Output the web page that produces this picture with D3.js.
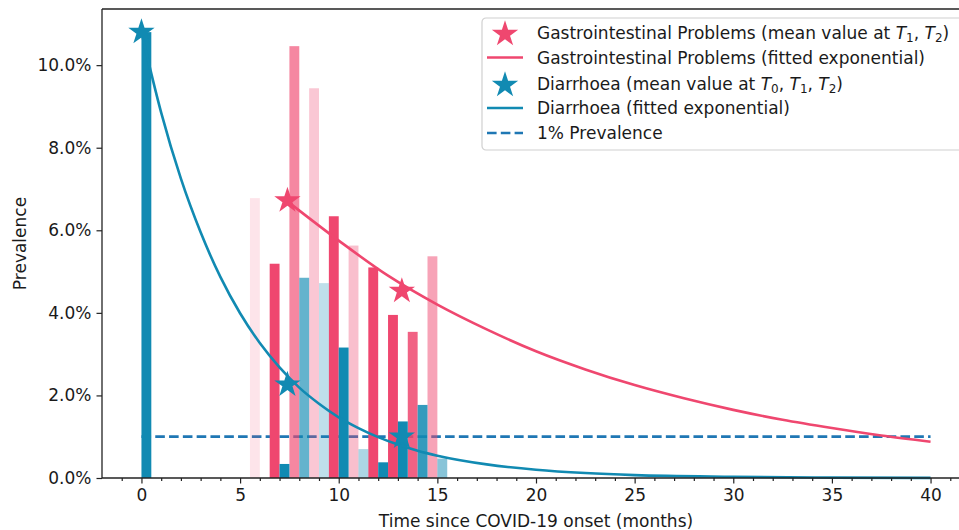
<!DOCTYPE html>
<html lang="en">
<head>
<meta charset="utf-8">
<script src="https://d3js.org/d3.v7.min.js"></script>
<style>
  body { margin: 0; background: #fff; }
  text { font-family: "DejaVu Sans", sans-serif; fill: #1a1a1a; }
</style>
</head>
<body>
<script>
// ---- data (months since onset, prevalence in %) ----
const giBarMonths = [5.5, 6.5, 7.5, 8.5, 9.5, 10.5, 11.5, 12.5, 13.5, 14.5];
const giBarValues = [6.78, 5.19, 10.46, 9.44, 6.34, 5.63, 5.10, 3.95, 3.54, 5.37];

const diaBarMonths = [0, 7, 8, 9, 10, 11, 12, 13, 14, 15];
const diaBarValues = [10.8, 0.34, 4.85, 4.72, 3.16, 0.70, 0.38, 1.37, 1.77, 0.47];

const giStarMonths = [7.4, 13.2];
const giStarValues = [6.72, 4.53];

const diaStarMonths = [0, 7.4, 13.2];
const diaStarValues = [10.8, 2.26, 1.0];

// fitted curves
const giFitMonths = [7.4, 10, 12.5, 15, 17.5, 20, 22.5, 25, 27.5, 30, 32.5, 35, 37.5, 40];
const giFitValues = [6.70, 5.75, 4.90, 4.20, 3.60, 3.07, 2.63, 2.25, 1.93, 1.65, 1.41, 1.21, 1.03, 0.88];

const diaFitMonths = [0, 1, 2, 3, 4, 5, 6, 7, 8, 9, 10, 11, 12, 13, 14, 15, 17.5, 20, 22.5, 25, 30, 35, 40];
const diaFitValues = [10.8, 8.85, 7.25, 5.95, 4.87, 3.99, 3.27, 2.68, 2.19, 1.80, 1.47, 1.21, 0.99, 0.81, 0.66, 0.54, 0.33, 0.20, 0.12, 0.07, 0.03, 0.01, 0.004];

const thresholdValue = 1;
const thresholdMonths = [0, 40];

const xTicks = [0, 5, 10, 15, 20, 25, 30, 35, 40];
const yTicks = [0, 2, 4, 6, 8, 10];

// ---- styles ----
const pink = "#ef476f";
const teal = "#118ab2";
const dashBlue = "#1f77b4";
const barWidth = 0.5;
const giBarOpacity = [0.15, 1, 0.65, 0.3, 1, 0.35, 1, 1, 0.85, 0.5];
const diaBarOpacity = [1, 1, 0.65, 0.27, 1, 0.35, 1, 1, 0.85, 0.5];
const fs = 17;

const W = 959, H = 530;
const margin = {top: 9, right: -11, bottom: 52, left: 102};
const width = W - margin.left - margin.right;
const height = H - margin.top - margin.bottom;

const svg = d3.select("body").append("svg")
    .attr("width", W)
    .attr("height", H);

const g = svg.append("g")
    .attr("transform", "translate(" + margin.left + "," + margin.top + ")");

const x = d3.scaleLinear().domain([-2, 42]).range([0, width]);
const y = d3.scaleLinear().domain([0, 11.36]).range([height, 0]);

// 1% line goes under the bars
g.append("line")
    .attr("x1", x(thresholdMonths[0]))
    .attr("x2", x(thresholdMonths[1]))
    .attr("y1", y(thresholdValue))
    .attr("y2", y(thresholdValue))
    .attr("stroke", dashBlue)
    .attr("stroke-width", 2.7)
    .attr("stroke-dasharray", "9.6,4.2");

// bars
function drawBars(months, values, opac, colour) {
    g.append("g").selectAll("rect")
        .data(months)
        .join("rect")
        .attr("x", d => x(d))
        .attr("width", x(barWidth) - x(0))
        .attr("y", (d, i) => y(values[i]))
        .attr("height", (d, i) => y(0) - y(values[i]))
        .attr("fill", colour)
        .attr("fill-opacity", (d, i) => opac[i]);
}
drawBars(giBarMonths, giBarValues, giBarOpacity, pink);
drawBars(diaBarMonths, diaBarValues, diaBarOpacity, teal);

// fitted curves
const line = d3.line()
    .x(d => x(d[0]))
    .y(d => y(d[1]))
    .curve(d3.curveMonotoneX);

g.append("path")
    .attr("d", line(diaFitMonths.map((m, i) => [m, diaFitValues[i]])))
    .attr("fill", "none")
    .attr("stroke", teal)
    .attr("stroke-width", 2.6);

g.append("path")
    .attr("d", line(giFitMonths.map((m, i) => [m, giFitValues[i]])))
    .attr("fill", "none")
    .attr("stroke", pink)
    .attr("stroke-width", 2.6);

// stars
const star = d3.symbol().type(d3.symbolStar).size(215);
function drawStars(months, values, colour) {
    g.append("g").selectAll("path")
        .data(months)
        .join("path")
        .attr("d", star)
        .attr("transform", (d, i) => "translate(" + x(d) + "," + y(values[i]) + ")")
        .attr("fill", colour);
}
drawStars(giStarMonths, giStarValues, pink);
drawStars(diaStarMonths, diaStarValues, teal);

// axes frame
const frame = g.append("g").attr("stroke", "#222").attr("stroke-width", 1.3);
frame.append("line").attr("x1", 0).attr("x2", width).attr("y1", 0).attr("y2", 0);
frame.append("line").attr("x1", 0).attr("x2", width).attr("y1", height).attr("y2", height);
frame.append("line").attr("x1", 0).attr("x2", 0).attr("y1", 0).attr("y2", height);
frame.append("line").attr("x1", width).attr("x2", width).attr("y1", 0).attr("y2", height);

// x axis
const xAxis = g.append("g")
    .attr("transform", "translate(0," + height + ")")
    .call(d3.axisBottom(x).tickValues(xTicks).tickSize(5.5).tickPadding(5).tickFormat(d3.format("d")));
xAxis.select(".domain").remove();
const minor = d3.range(-1, 42).filter(m => m % 5 !== 0);
g.append("g")
    .attr("transform", "translate(0," + height + ")")
    .call(d3.axisBottom(x).tickValues(minor).tickSize(3).tickFormat(""))
    .select(".domain").remove();

// y axis
const yAxis = g.append("g")
    .call(d3.axisLeft(y).tickValues(yTicks).tickSize(5.5).tickPadding(5).tickFormat(d => d.toFixed(1) + "%"));
yAxis.select(".domain").remove();

g.selectAll(".tick line").attr("stroke", "#222").attr("stroke-width", 1.2);
g.selectAll(".tick text").attr("font-size", fs).attr("font-family", "DejaVu Sans").attr("fill", "#1a1a1a");

svg.append("text")
    .attr("x", margin.left + (x(42) + x(-2)) / 2)
    .attr("y", 527)
    .attr("text-anchor", "middle")
    .attr("font-size", fs)
    .text("Time since COVID-19 onset (months)");

svg.append("text")
    .attr("transform", "translate(26," + (margin.top + height / 2) + ") rotate(-90)")
    .attr("text-anchor", "middle")
    .attr("font-size", fs)
    .text("Prevalence");

// legend
const leg = svg.append("g").attr("transform", "translate(482,18)");
leg.append("rect")
    .attr("width", 482).attr("height", 132)
    .attr("rx", 4)
    .attr("fill", "#fff").attr("fill-opacity", 0.8)
    .attr("stroke", "#d0d0d0").attr("stroke-width", 1.2);

const rowY = [14.5, 39.5, 65.5, 90, 115];
// label parts: [text, italic, subscript]
const legendItems = [
    {kind: "star", colour: pink, parts: [["Gastrointestinal Problems (mean value at "], ["T", 1], ["1", 0, 1], [", "], ["T", 1], ["2", 0, 1], [")"]]},
    {kind: "line", colour: pink, parts: [["Gastrointestinal Problems (fitted exponential)"]]},
    {kind: "star", colour: teal, parts: [["Diarrhoea (mean value at "], ["T", 1], ["0", 0, 1], [", "], ["T", 1], ["1", 0, 1], [", "], ["T", 1], ["2", 0, 1], [")"]]},
    {kind: "line", colour: teal, parts: [["Diarrhoea (fitted exponential)"]]},
    {kind: "dash", colour: dashBlue, parts: [["1% Prevalence"]]}
];

legendItems.forEach((it, i) => {
    const row = leg.append("g").attr("transform", "translate(0," + rowY[i] + ")");
    if (it.kind === "star") {
        row.append("path").attr("d", star).attr("fill", it.colour)
            .attr("transform", "translate(23,1.5)");
    } else {
        row.append("line").attr("x1", 5).attr("x2", 41).attr("y1", 0).attr("y2", 0)
            .attr("stroke", it.colour).attr("stroke-width", 2.6)
            .attr("stroke-dasharray", it.kind === "dash" ? "9.6,4.2" : null);
    }
    const t = row.append("text").attr("x", 55).attr("y", 6).attr("font-size", fs);
    it.parts.forEach(p => {
        const s = t.append("tspan").text(p[0]);
        if (p[1]) s.attr("font-style", "italic");
        if (p[2]) s.attr("font-size", 12).attr("dy", 3.5);
        else if (s.node().previousSibling && s.node().previousSibling.getAttribute("dy") === "3.5") s.attr("dy", -3.5);
    });
});
</script>
</body>
</html>
